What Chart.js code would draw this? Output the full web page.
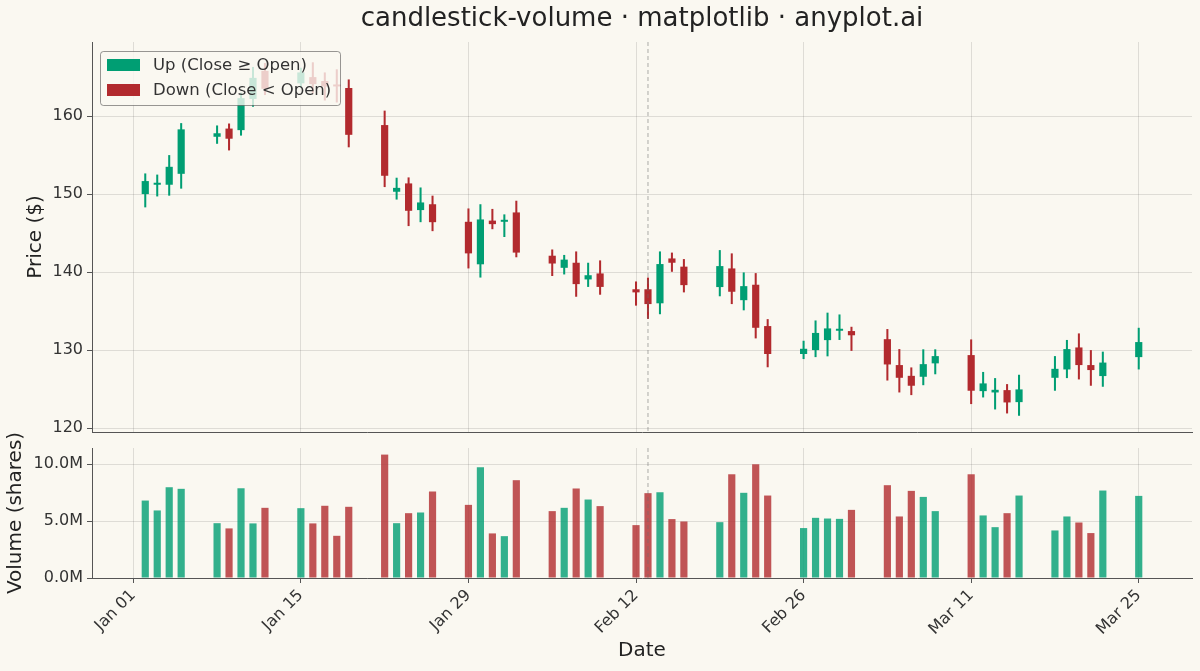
<!DOCTYPE html>
<html>
<head>
<meta charset="utf-8">
<title>candlestick-volume</title>
<script src="https://cdn.jsdelivr.net/npm/chart.js@4.4.1/dist/chart.umd.min.js"></script>
<style>
    html, body { margin: 0; padding: 0; background: #FAF8F1; }
    #wrap { position: relative; width: 1200px; height: 671px; }
    #priceBox { position: absolute; left: 0; top: 0; width: 1200px; height: 445px; }
    /* volume canvas overlaps the price one a little so its y title can run past the panel */
    #volumeBox { position: absolute; left: 0; top: 400px; width: 1200px; height: 271px; }
</style>
</head>
<body>
<div id="wrap">
    <div id="priceBox"><canvas id="priceChart"></canvas></div>
    <div id="volumeBox"><canvas id="volumeChart"></canvas></div>
</div>
<script>
// Daily OHLC + volume (trading days, 2024)
const dates = [
    '2024-01-02', '2024-01-03', '2024-01-04', '2024-01-05',
    '2024-01-08', '2024-01-09', '2024-01-10', '2024-01-11', '2024-01-12',
    '2024-01-15', '2024-01-16', '2024-01-17', '2024-01-18', '2024-01-19',
    '2024-01-22', '2024-01-23', '2024-01-24', '2024-01-25', '2024-01-26',
    '2024-01-29', '2024-01-30', '2024-01-31', '2024-02-01', '2024-02-02',
    '2024-02-05', '2024-02-06', '2024-02-07', '2024-02-08', '2024-02-09',
    '2024-02-12', '2024-02-13', '2024-02-14', '2024-02-15', '2024-02-16',
    '2024-02-19', '2024-02-20', '2024-02-21', '2024-02-22', '2024-02-23',
    '2024-02-26', '2024-02-27', '2024-02-28', '2024-02-29', '2024-03-01',
    '2024-03-04', '2024-03-05', '2024-03-06', '2024-03-07', '2024-03-08',
    '2024-03-11', '2024-03-12', '2024-03-13', '2024-03-14', '2024-03-15',
    '2024-03-18', '2024-03-19', '2024-03-20', '2024-03-21', '2024-03-22',
    '2024-03-25'
];
const opens = [
    150.0, 151.2, 151.2, 152.6,
    157.35, 158.4, 158.2, 162.2, 165.8,
    164.2, 165.0, 164.5, 164.0, 163.6,
    158.85, 150.3, 151.37, 147.95, 148.7,
    146.45, 141.0, 146.6, 146.45, 147.65,
    142.1, 140.55, 141.2, 139.06, 139.83,
    137.8, 137.8, 136.0, 141.75, 140.7,
    138.08, 140.47, 136.4, 138.38, 133.08,
    129.5, 130.0, 131.28, 132.48, 132.44,
    131.4, 128.08, 126.7, 126.58, 128.3,
    129.36, 124.74, 124.57, 124.87, 123.33,
    126.45, 127.52, 130.34, 128.08, 126.67,
    129.1
];
const highs = [
    152.65, 152.5, 155.0, 159.1,
    158.8, 159.05, 163.0, 166.3, 166.8,
    166.2, 166.9, 165.6, 166.0, 164.7,
    160.7, 152.1, 152.14, 150.85, 149.8,
    148.16, 148.7, 148.1, 147.4, 149.15,
    142.9, 142.2, 142.65, 141.2, 141.5,
    138.8, 139.3, 142.65, 142.5, 141.67,
    142.82, 142.4, 139.96, 139.87, 133.97,
    131.2, 133.8, 134.8, 134.57, 132.99,
    132.7, 130.13, 127.78, 130.1, 130.1,
    131.37, 127.2, 126.41, 125.64, 126.84,
    129.23, 131.3, 132.14, 130.0, 129.8,
    132.86
];
const lows = [
    148.3, 149.7, 149.8, 150.7,
    156.45, 155.6, 157.5, 161.2, 162.7,
    163.6, 162.9, 162.0, 161.75, 156.0,
    150.9, 149.3, 145.9, 146.4, 145.25,
    140.47, 139.3, 145.5, 144.5, 141.9,
    139.5, 139.7, 136.84, 138.1, 137.1,
    135.7, 134.0, 134.6, 140.04, 137.4,
    136.9, 135.9, 135.1, 131.5, 127.8,
    128.85, 129.1, 129.2, 131.3, 129.9,
    126.1, 124.57, 124.23, 125.5, 126.9,
    123.08, 123.93, 122.39, 121.88, 121.58,
    124.79, 126.41, 126.24, 125.43, 125.3,
    127.52
];
const closes = [
    151.67, 151.4, 153.5, 158.3,
    157.8, 157.1, 162.3, 164.9, 163.5,
    165.6, 164.1, 163.8, 163.8, 157.6,
    152.35, 150.8, 147.86, 148.93, 146.4,
    142.4, 146.75, 146.15, 146.6, 142.5,
    141.1, 141.6, 138.46, 139.6, 138.1,
    137.4, 135.9, 141.03, 141.2, 138.33,
    140.77, 137.48, 138.2, 132.86, 129.5,
    130.17, 132.2, 132.78, 132.65, 131.9,
    128.16, 126.45, 125.43, 128.2, 129.23,
    124.79, 125.73, 124.91, 123.29, 124.96,
    127.6, 130.13, 128.08, 127.44, 128.4,
    131.03
];
const volumes = [
    6810000, 5940000, 7980000, 7840000,
    4820000, 4360000, 7890000, 4800000, 6170000,
    6140000, 4800000, 6350000, 3710000, 6260000,
    10850000, 4820000, 5700000, 5760000, 7600000,
    6430000, 9740000, 3920000, 3680000, 8600000,
    5880000, 6170000, 7870000, 6900000, 6320000,
    4650000, 7460000, 7540000, 5180000, 4970000,
    4910000, 9120000, 7490000, 10000000, 7250000,
    4390000, 5290000, 5230000, 5200000, 5990000,
    8160000, 5410000, 7660000, 7130000, 5880000,
    9120000, 5500000, 4470000, 5700000, 7250000,
    4180000, 5410000, 4880000, 3950000, 7690000,
    7220000
];

// Ticks and labels
const dateTickDays = [0, 14, 28, 42, 56, 70, 84];
const dateTickLabels = ['Jan 01', 'Jan 15', 'Jan 29', 'Feb 12', 'Feb 26', 'Mar 11', 'Mar 25'];
const priceTicks = [120, 130, 140, 150, 160];
const volumeTicks = [0, 5000000, 10000000];
const legendLabels = ['Up (Close \u2265 Open)', 'Down (Close < Open)'];
const markedDate = '2024-02-13';

const UP = '#009E73';
const DOWN = '#B22A2E';
const GRID = 'rgba(0, 0, 0, 0.11)';
const AXIS = '#555555';
const TEXT = '#333333';

Chart.defaults.font.family = '"DejaVu Sans", sans-serif';
Chart.defaults.color = TEXT;

// days since 2024-01-01
function dayOffset(iso) {
    const [y, m, d] = iso.split('-').map(Number);
    return Math.round((Date.UTC(y, m - 1, d) - Date.UTC(2024, 0, 1)) / 86400000);
}

const days = dates.map(dayOffset);
const isUp = opens.map((o, i) => closes[i] >= o);
const candleColors = isUp.map(up => up ? UP : DOWN);
const volumeColors = isUp.map(up => up ? 'rgba(0, 158, 115, 0.8)' : 'rgba(178, 42, 46, 0.8)');

// x axis shared by both panels
function dateAxis(showLabels) {
    return {
        type: 'linear',
        min: -3.45,
        max: 88.45,
        offset: false,
        afterBuildTicks: scale => { scale.ticks = dateTickDays.map(v => ({ value: v })); },
        grid: { offset: false, color: GRID, drawTicks: showLabels, tickLength: 5, tickColor: AXIS },
        border: { display: true, color: AXIS, width: 1 },
        ticks: {
            display: showLabels,
            autoSkip: false,
            maxRotation: 45,
            minRotation: 45,
            padding: 3,
            font: { size: 16 },
            color: TEXT,
            callback: value => dateTickLabels[dateTickDays.indexOf(value)] || ''
        },
        title: {
            display: showLabels,
            text: 'Date',
            font: { size: 20 },
            color: '#222',
            padding: { top: 0, bottom: 8 }
        },
        afterFit: scale => {
            scale.height = showLabels ? 93 : 13;
            scale.paddingLeft = 0;
            scale.paddingRight = 0;
        }
    };
}

// y axis helper
function valueAxis(min, max, ticks, label, titlePad, format) {
    return {
        min: min,
        max: max,
        afterBuildTicks: scale => { scale.ticks = ticks.map(v => ({ value: v })); },
        grid: { color: GRID, tickLength: 5, tickColor: AXIS },
        border: { display: true, color: AXIS, width: 1 },
        ticks: { font: { size: 16 }, color: TEXT, padding: 4, callback: format },
        title: { display: true, text: label, font: { size: 20 }, color: '#222', padding: { top: titlePad, bottom: 0 } },
        afterFit: scale => {
            scale.width = 92;
            scale.paddingTop = 0;
            scale.paddingBottom = 0;
        }
    };
}

// Dashed marker line at one date
const markerLine = {
    id: 'markerLine',
    afterDatasetsDraw(chart) {
        const ctx = chart.ctx;
        const area = chart.chartArea;
        const x = chart.scales.x.getPixelForValue(dayOffset(markedDate));
        ctx.save();
        ctx.beginPath();
        ctx.setLineDash([4, 3]);
        ctx.strokeStyle = 'rgba(110, 110, 110, 0.55)';
        ctx.lineWidth = 1;
        ctx.moveTo(x, area.top);
        ctx.lineTo(x, area.bottom);
        ctx.stroke();
        ctx.restore();
    }
};

// Legend box drawn over the candles (semi-transparent like matplotlib)
const candleLegend = {
    id: 'candleLegend',
    afterDatasetsDraw(chart) {
        const ctx = chart.ctx;
        const area = chart.chartArea;
        const x = area.left + 8;
        const y = area.top + 9;
        ctx.save();
        ctx.beginPath();
        ctx.roundRect(x + 0.5, y + 0.5, 240, 54, 3);
        ctx.fillStyle = 'rgba(250, 248, 241, 0.8)';
        ctx.fill();
        ctx.strokeStyle = 'rgba(70, 70, 70, 0.55)';
        ctx.lineWidth = 1;
        ctx.stroke();
        ctx.font = '16.5px "DejaVu Sans", sans-serif';
        ctx.textBaseline = 'middle';
        [UP, DOWN].forEach((color, i) => {
            const rowY = y + 14 + i * 25;
            ctx.fillStyle = color;
            ctx.fillRect(x + 7, rowY - 6, 33, 12);
            ctx.fillStyle = TEXT;
            ctx.fillText(legendLabels[i], x + 53, rowY + 1);
        });
        ctx.restore();
    }
};

// Price panel
new Chart(document.getElementById('priceChart'), {
    type: 'bar',
    data: {
        datasets: [
            {
                label: 'Body',
                data: days.map((x, i) => ({ x: x, y: [opens[i], closes[i]] })),
                backgroundColor: candleColors,
                borderWidth: 0,
                grouped: false,
                barPercentage: 0.6,
                categoryPercentage: 1,
                minBarLength: 2
            },
            {
                label: 'Wick',
                data: days.map((x, i) => ({ x: x, y: [lows[i], highs[i]] })),
                backgroundColor: candleColors,
                borderWidth: 0,
                grouped: false,
                barPercentage: 0.17,
                categoryPercentage: 1
            }
        ]
    },
    options: {
        responsive: true,
        maintainAspectRatio: false,
        animation: false,
        layout: { padding: { left: 0, right: 8, top: 0, bottom: 0 } },
        plugins: {
            legend: { display: false },
            tooltip: { enabled: false },
            title: {
                display: true,
                fullSize: false,
                text: 'candlestick-volume \u00b7 matplotlib \u00b7 anyplot.ai',
                font: { size: 26, weight: 'normal' },
                color: '#222',
                padding: { top: 3.4, bottom: 7.4 }
            }
        },
        scales: {
            x: dateAxis(false),
            y: valueAxis(119.5, 169.5, priceTicks, 'Price ($)', 24)
        }
    },
    plugins: [markerLine, candleLegend]
});

// Volume panel
new Chart(document.getElementById('volumeChart'), {
    type: 'bar',
    data: {
        datasets: [{
            label: 'Volume',
            data: days.map((x, i) => ({ x: x, y: volumes[i] })),
            backgroundColor: volumeColors,
            borderWidth: 0,
            grouped: false,
            barPercentage: 0.6,
            categoryPercentage: 1
        }]
    },
    options: {
        responsive: true,
        maintainAspectRatio: false,
        animation: false,
        layout: { padding: { left: 0, right: 8, top: 48, bottom: 0 } },
        plugins: {
            legend: { display: false },
            tooltip: { enabled: false }
        },
        scales: {
            x: dateAxis(true),
            y: valueAxis(0, 11430000, volumeTicks, 'Volume (shares)', 4,
                value => (value / 1e6).toFixed(1) + 'M')
        }
    },
    plugins: [markerLine]
});
</script>
</body>
</html>
